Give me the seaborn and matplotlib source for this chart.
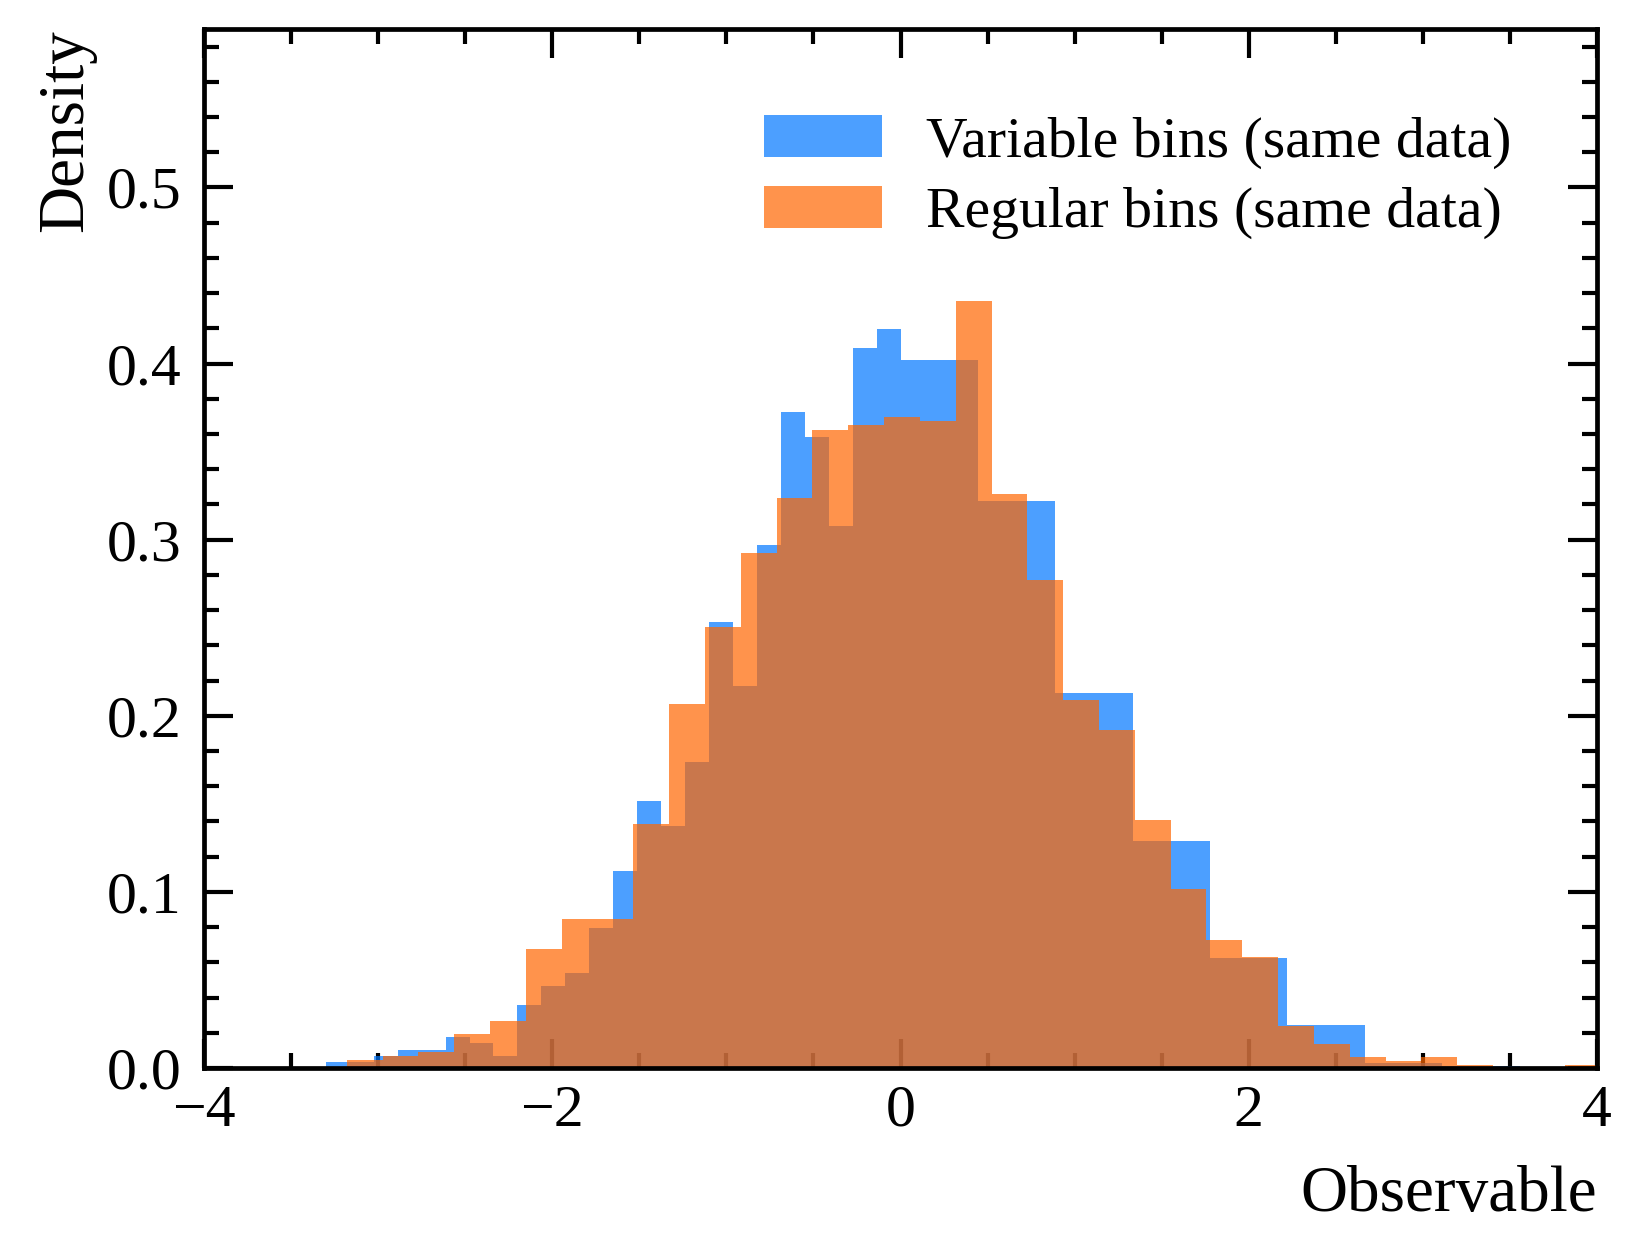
import numpy as np
import matplotlib
matplotlib.use("Agg")
import matplotlib.pyplot as plt
import seaborn as sns
from matplotlib.ticker import MultipleLocator

# ---- data ----
# variable bins: fine bins from -3.3 to 0, coarse bins from 0 to 4
var_edges = list(np.linspace(-3.3, 0.0, 25)) + list(np.linspace(0.0, 4.0, 10)[1:])
var_density = [0.0036, 0.0036, 0.0070, 0.0104, 0.0104, 0.0178, 0.0144, 0.0070,
               0.0358, 0.0466, 0.0540, 0.0795, 0.1120, 0.1517, 0.1375, 0.1739,
               0.2534, 0.2170, 0.2970, 0.3727, 0.3585, 0.3080, 0.4091, 0.4199,
               0.4023, 0.3222, 0.2131, 0.1290, 0.0625, 0.0244, 0.0030, 0.0012,
               0.0]

# regular bins
reg_edges = list(np.linspace(-3.18, 4.02, 36))
reg_density = [0.0045, 0.0070, 0.0093, 0.0195, 0.0268, 0.0676, 0.0847, 0.0847,
               0.1386, 0.2068, 0.2506, 0.2926, 0.3239, 0.3625, 0.3653, 0.3699,
               0.3676, 0.4358, 0.3261, 0.2773, 0.2091, 0.1920, 0.1409, 0.1017,
               0.0727, 0.0630, 0.0239, 0.0135, 0.0062, 0.0040, 0.0062, 0.0019,
               0.0, 0.0, 0.0019]

var_label = "Variable bins (same data)"
reg_label = "Regular bins (same data)"
x_label = "Observable"
y_label = "Density"

# ---- style ----
sns.set_style("ticks")
plt.rcParams['font.family'] = ['Liberation Serif', 'DejaVu Serif']
plt.rcParams['axes.unicode_minus'] = True
for k in ['text.color', 'axes.labelcolor', 'xtick.color', 'ytick.color',
          'axes.edgecolor', 'xtick.labelcolor', 'ytick.labelcolor']:
    plt.rcParams[k] = 'black'

W, H, DPI = 1644, 1257, 200
fig = plt.figure(figsize=(W / DPI, H / DPI), dpi=DPI)
ax = fig.add_axes([204 / W, 1 - 1068 / H, (1597 - 204) / W, (1068 - 29) / H])

ve = np.array(var_edges)
re_ = np.array(reg_edges)
var_centers = 0.5 * (ve[:-1] + ve[1:])
reg_centers = 0.5 * (re_[:-1] + re_[1:])

sns.histplot(x=var_centers, weights=var_density, bins=var_edges, stat="count",
             color="#0077FF", alpha=0.7, linewidth=0, edgecolor="none",
             ax=ax, label=var_label)
sns.histplot(x=reg_centers, weights=reg_density, bins=reg_edges, stat="count",
             color="#FF6600", alpha=0.7, linewidth=0, edgecolor="none",
             ax=ax, label=reg_label)

ax.set_xlim(-4, 4)
ax.set_ylim(0, 0.59)
ax.xaxis.set_major_locator(MultipleLocator(2))
ax.xaxis.set_minor_locator(MultipleLocator(0.5))
ax.yaxis.set_major_locator(MultipleLocator(0.1))
ax.yaxis.set_minor_locator(MultipleLocator(0.02))
ax.yaxis.set_major_formatter(matplotlib.ticker.FormatStrFormatter('%.1f'))

for s in ax.spines.values():
    s.set_linewidth(1.7)
    s.set_color('black')
    s.set_visible(True)
ax.tick_params(which='both', direction='in', top=True, right=True, width=1.5,
               color='black', labelcolor='black')
ax.tick_params(which='major', length=10.4, labelsize=21.5)
ax.tick_params(axis='x', which='major', pad=6)
ax.tick_params(axis='y', which='major', pad=8)
ax.tick_params(which='minor', length=5.4)

ax.set_xlabel(x_label, fontsize=23.5, loc='right', labelpad=9.5, color='black')
ax.set_ylabel(y_label, fontsize=23.5, loc='top', labelpad=4, color='black')

leg = ax.legend(loc='upper left', bbox_to_anchor=(0.402, 0.917), frameon=False,
                fontsize=20.8, handlelength=2.04, handleheight=0.74,
                handletextpad=0.76, labelspacing=0.3, borderpad=0,
                borderaxespad=0)
for t in leg.get_texts():
    t.set_color('black')

fig.savefig("out.png", dpi=DPI)
